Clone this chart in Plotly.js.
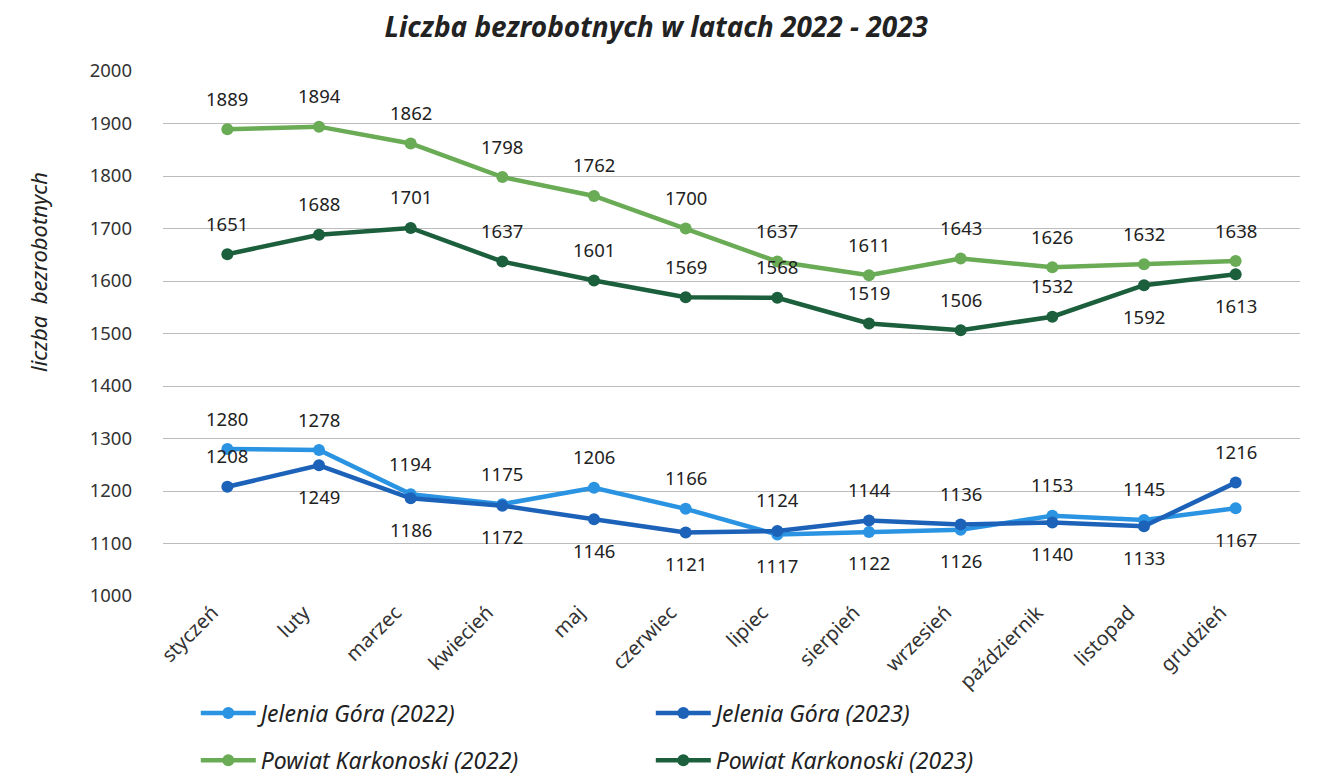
<!DOCTYPE html>
<html>
<head>
<meta charset="utf-8">
<script src="https://cdn.plot.ly/plotly-3.0.1.min.js"></script>
<style>html,body{margin:0;padding:0;background:#fff;}#chart{width:1323px;height:779px;}</style>
</head>
<body>
<div id="chart"></div>
<script>
var months = ["styczeń","luty","marzec","kwiecień","maj","czerwiec","lipiec","sierpień","wrzesień","październik","listopad","grudzień"];
var jg2022 = [1280,1278,1194,1175,1206,1166,1117,1122,1126,1153,1145,1167];
var jg2023 = [1208,1249,1186,1172,1146,1121,1124,1144,1136,1140,1133,1216];
var pk2022 = [1889,1894,1862,1798,1762,1700,1637,1611,1643,1626,1632,1638];
var pk2023 = [1651,1688,1701,1637,1601,1569,1568,1519,1506,1532,1592,1613];
var yAxisTitle = "liczba  bezrobotnych";

// label placement: 1 = above, -1 = below
var posJg2022 = [1,1,1,1,1,1,-1,-1,-1,1,1,-1];
var posJg2023 = [1,-1,-1,-1,-1,-1,1,1,1,-1,-1,1];
var posPk2022 = [1,1,1,1,1,1,1,1,1,1,1,1];
var posPk2023 = [1,1,1,1,1,1,1,1,1,1,-1,-1];

var cLB = "#2a94e2", cDB = "#1c62b8", cLG = "#6aab55", cDG = "#1b5f3d";

function tr(name, y, color, legend){
  return {type:"scatter", mode:"lines+markers", x:months, y:y, name:name,
    legend:legend,
    line:{color:color, width:4.5}, marker:{color:color, size:12},
    hoverinfo:"x+y"};
}
var data = [
  tr("Jelenia Góra (2022)", jg2022, cLB, "legend"),
  tr("Jelenia Góra (2023)", jg2023, cDB, "legend"),
  tr("Powiat Karkonoski (2022)", pk2022, cLG, "legend2"),
  tr("Powiat Karkonoski (2023)", pk2023, cDG, "legend2")
];

var anns = [];
function addLabels(vals, pos){
  for (var i=0;i<vals.length;i++){
    anns.push({x:months[i], y:vals[i], xref:"x", yref:"y", text:String(vals[i]),
      showarrow:false, yshift: pos[i]*31,
      font:{family:"Noto Sans, sans-serif", size:18.5, color:"#222"}});
  }
}
addLabels(jg2022,posJg2022);
addLabels(jg2023,posJg2023);
addLabels(pk2022,posPk2022);
addLabels(pk2023,posPk2023);
anns.push({text:"<i>"+yAxisTitle+"</i>", xref:"paper", yref:"paper", x:-0.11, y:0.617,
  xanchor:"center", yanchor:"middle", textangle:-90, showarrow:false,
  font:{family:"Noto Sans, sans-serif", size:22, color:"#222"}});

var legFont = {family:"Noto Sans, sans-serif", size:23, color:"#222", style:"italic"};
var layout = {
  width:1323, height:779,
  paper_bgcolor:"#fff", plot_bgcolor:"#fff",
  margin:{l:163, r:23, t:71, b:183, autoexpand:false},
  title:{text:"<i><b>Liczba bezrobotnych w latach 2022 - 2023</b></i>",
    font:{family:"Noto Sans, sans-serif", size:28, color:"#222"},
    x:0.496, xref:"container", xanchor:"center", y:0.965, yref:"container", yanchor:"middle"},
  xaxis:{type:"category", tickangle:-45, showgrid:false, zeroline:false, showline:false,
    ticks:"", ticklabelshift:-15,
    tickfont:{family:"Noto Sans, sans-serif", size:20, color:"#333"}},
  yaxis:{range:[1000,2000], dtick:100, showgrid:true, gridcolor:"#bcbcbc", gridwidth:1,
    zeroline:false, showline:false, ticks:"", ticklabelstandoff:30,
    tickfont:{family:"Noto Sans, sans-serif", size:18.5, color:"#333"}},
  showlegend:true,
  legend:{orientation:"h", x:0.148, xref:"container", xanchor:"left", y:0.0847, yref:"container", yanchor:"middle",
    entrywidth:385, entrywidthmode:"pixels", itemwidth:55, font:legFont, bgcolor:"rgba(0,0,0,0)"},
  legend2:{orientation:"h", x:0.148, xref:"container", xanchor:"left", y:0.024, yref:"container", yanchor:"middle",
    entrywidth:385, entrywidthmode:"pixels", itemwidth:55, font:legFont, bgcolor:"rgba(0,0,0,0)"},
  annotations:anns
};
Plotly.newPlot("chart", data, layout, {displayModeBar:false, staticPlot:true});
</script>
</body>
</html>
